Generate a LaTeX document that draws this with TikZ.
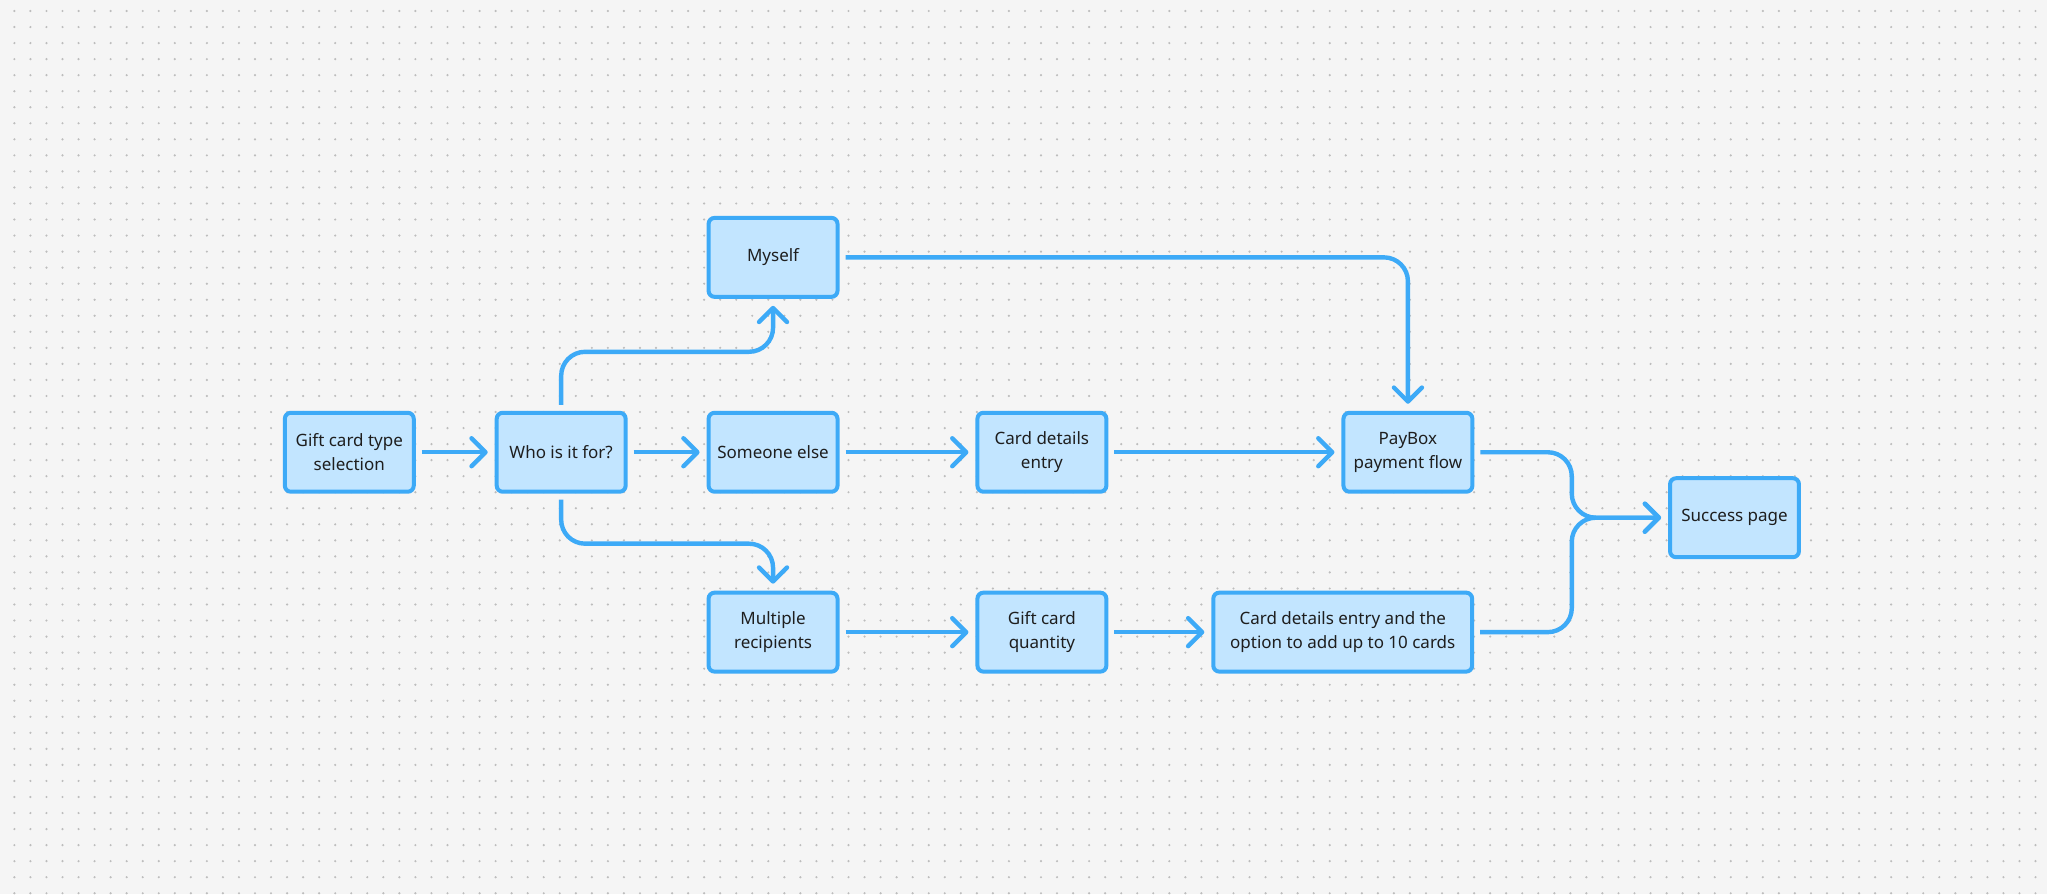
\documentclass[tikz,border=0pt]{standalone}
\usepackage{fontspec}
\setmainfont{Noto Sans}
\usetikzlibrary{arrows.meta}
\definecolor{canvas}{HTML}{F5F5F5}
\definecolor{griddot}{HTML}{BDBDBD}
\definecolor{flowblue}{HTML}{3DAAF7}
\definecolor{boxfill}{HTML}{C2E5FF}
\definecolor{ink}{HTML}{1E1E1E}
\tikzset{
  box/.style={draw=flowblue, fill=boxfill, line width=2pt, rounded corners=3pt,
    minimum width=64.5pt, minimum height=39.5pt, inner sep=2pt, align=center,
    text=ink, font=\fontsize{8.5}{12}\selectfont},
  widebox/.style={box, minimum width=129.5pt},
  flow/.style={draw=flowblue, line width=2.2pt, rounded corners=12pt,
    shorten <=3pt, shorten >=3.5pt,
    -{Straight Barb[length=7pt,width=14pt,round]}},
  dotrow/.style={griddot, line width=1.2pt, line cap=round,
    dash pattern=on 0pt off 8.025pt},
}
\begin{document}
\begin{tikzpicture}[x=0.5pt, y=-0.5pt]
    % Canvas and dot grid
    \fill[canvas] (0,0) rectangle (2048,895);
    \foreach \k in {0,...,55}
        \draw[dotrow] (14.4,11+16.05*\k) -- (2048,11+16.05*\k);

    % Steps
    \node[box] (gift) at (349.5,452.5) {Gift card type\\selection};
    \node[box] (who) at (561.5,452.5) {Who is it for?};
    \node[box] (myself) at (773.5,257.5) {Myself};
    \node[box] (someone) at (773.5,452.5) {Someone else};
    \node[box] (multi) at (773.5,632.5) {Multiple\\recipients};
    \node[box] (details) at (1042.5,452.5) {Card details\\entry};
    \node[box] (quantity) at (1042.5,632.5) {Gift card\\quantity};
    \node[box] (paybox) at (1408.75,452.5) {PayBox\\payment flow};
    \node[widebox] (multidetails) at (1343.5,632.5) {Card details entry and the\\option to add up to 10 cards};
    \node[box] (success) at (1735.5,518) {Success page};

    % Branches out of the question
    \draw[flow] (gift) -- (who);
    \draw[flow] (who.north) -- ++(0,-59) -| (myself.south);
    \draw[flow] (who) -- (someone);
    \draw[flow] (who.south) -- ++(0,50) -| (multi.north);

    % Single recipient paths
    \draw[flow] (myself) -| (paybox);
    \draw[flow] (someone) -- (details);
    \draw[flow] (details) -- (paybox);

    % Several recipients
    \draw[flow] (multi) -- (quantity);
    \draw[flow] (quantity) -- (multidetails);

    % Both end on the success page
    \coordinate (merge) at (1572.7,518);
    \draw[flow] (paybox) -| (merge) -- (success);
    \draw[flow] (multidetails) -| (merge) -- (success);
\end{tikzpicture}
\end{document}
